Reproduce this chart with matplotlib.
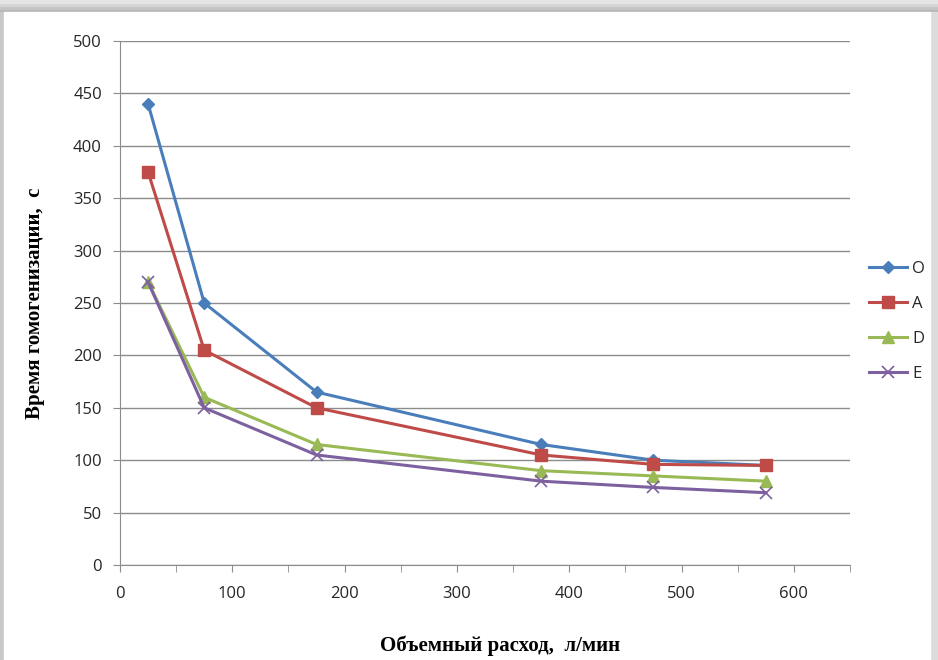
import matplotlib
matplotlib.use("Agg")
import matplotlib.pyplot as plt
from matplotlib.patches import Rectangle

# flow rate, l/min
flow = [25, 75, 175, 375, 475, 575]

# homogenisation time, s
series_o = [440, 250, 165, 115, 100, 95]
series_a = [375, 205, 150, 105, 96, 95]
series_d = [270, 160, 115, 90, 85, 80]
series_e = [270, 150, 105, 80, 74, 69]

names = ["O", "A", "D", "E"]
x_ticks = [0, 100, 200, 300, 400, 500, 600]
y_ticks = [0, 50, 100, 150, 200, 250, 300, 350, 400, 450, 500]

fig = plt.figure(figsize=(9.38, 6.6), dpi=100)

# grey shadow frame around the chart area
for i, c in enumerate(["#b4b4b4", "#c4c4c4", "#d4d4d4", "#e4e4e4"]):
    fig.patches.append(Rectangle((0, 1 - (12 - 3 * i) / 660), 1, (12 - 3 * i) / 660,
                                 transform=fig.transFigure, color=c, zorder=0))
fig.patches.append(Rectangle((0, 0), 4 / 938, 1 - 12 / 660,
                             transform=fig.transFigure, color="#c8c8c8", zorder=1))
fig.patches.append(Rectangle((4 / 938, 0), 1 - 12 / 938, 1 - 12 / 660,
                             transform=fig.transFigure, color="white", zorder=2))
fig.patches.append(Rectangle((1 - 8 / 938, 0), 8 / 938, 1 - 12 / 660,
                             transform=fig.transFigure, color="#dcdcdc", zorder=1))

ax = fig.add_axes([120 / 938, 95 / 660, 730 / 938, 524 / 660])
ax.set_zorder(5)

styles = [
    (series_o, "#4a7ebb", "D", 6.5),
    (series_a, "#be4b48", "s", 8),
    (series_d, "#98b954", "^", 8),
    (series_e, "#7d60a0", "x", 8),
]
for (vals, col, mk, ms), name in zip(styles, names):
    ax.plot(flow, vals, color=col, lw=2.2, marker=mk, ms=ms,
            mew=1.2 if mk == "x" else 1, label=name)

ax.set_xlim(0, 650)
ax.set_ylim(0, 500)
ax.set_xticks(x_ticks)
ax.set_yticks(y_ticks)
ax.set_xticks(range(0, 651, 50), minor=True)
ax.tick_params(axis="x", which="minor", length=5, color="#8c8c8c", direction="out")
ax.tick_params(axis="both", which="major", length=5, color="#8c8c8c",
               labelsize=12, labelcolor="#262626")
ax.tick_params(axis="y", pad=8)
ax.tick_params(axis="x", pad=10)
for lbl in ax.get_xticklabels() + ax.get_yticklabels():
    lbl.set_family("Open Sans")

ax.grid(axis="y", color="#8c8c8c", lw=1)
ax.set_axisbelow(True)
for s in ["top", "right"]:
    ax.spines[s].set_visible(False)
for s in ["left", "bottom"]:
    ax.spines[s].set_color("#8c8c8c")

ax.set_xlabel("Объемный расход,  л/мин", family="Liberation Serif",
              fontweight="bold", fontsize=15, va="center")
ax.xaxis.set_label_coords(0.52, -0.155)
ax.set_ylabel("Время гомогенизации,  с", family="Liberation Serif",
              fontweight="bold", fontsize=15, labelpad=20)

leg = ax.legend(loc="center left", bbox_to_anchor=(1.005, 0.465), frameon=False,
                fontsize=12, handlelength=2.3, labelspacing=1.15,
                handletextpad=0.3)
for t in leg.get_texts():
    t.set_family("Open Sans")
    t.set_color("#262626")

fig.savefig("out.png", dpi=100)
